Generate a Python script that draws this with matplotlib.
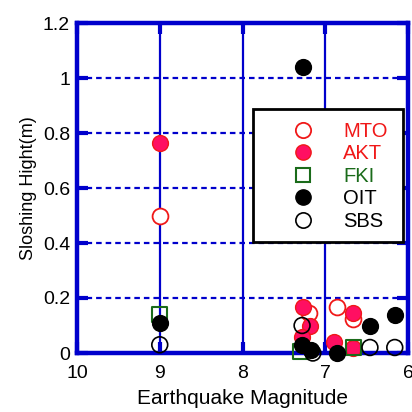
import matplotlib
matplotlib.use("Agg")
import matplotlib.pyplot as plt
from matplotlib.lines import Line2D
from matplotlib.patches import Rectangle

plt.rcParams['font.family'] = ['Liberation Sans', 'DejaVu Sans']

BLUE = '#0000CC'
RED = '#F01818'
PINK = '#FF0F62'
GREEN = '#1A6B1A'

# Data (magnitude, sloshing height)
mto_x = [9.0, 7.2, 6.86, 6.66]
mto_y = [0.50, 0.145, 0.167, 0.125]
akt_x = [9.0, 7.27, 7.18, 7.28, 6.89, 6.66, 6.66]
akt_y = [0.764, 0.167, 0.10, 0.06, 0.04, 0.145, 0.02]
fki_x = [9.0, 7.3, 6.66]
fki_y = [0.14, 0.005, 0.02]
oit_x = [7.27, 9.0, 7.28, 7.17, 6.86, 6.46, 6.16]
oit_y = [1.04, 0.11, 0.03, 0.01, 0.0, 0.10, 0.14]
sbs_x = [9.0, 7.28, 7.15, 6.46, 6.16]
sbs_y = [0.03, 0.10, 0.0, 0.02, 0.02]

xticks = [10, 9, 8, 7, 6]
yticks = [0, 0.2, 0.4, 0.6, 0.8, 1.0, 1.2]
ytick_labels = ['0', '0.2', '0.4', '0.6', '0.8', '1', '1.2']
labels = ['MTO', 'AKT', 'FKI', 'OIT', 'SBS']

W = 412.0
fig = plt.figure(figsize=(4.12, 4.12), dpi=100)
ax = fig.add_axes([77 / W, (W - 353) / W, (408 - 77) / W, (353 - 23) / W])
ax.set_xlim(10, 6)
ax.set_ylim(0, 1.2)

# grid
for xv in [9, 8, 7]:
    ax.axvline(xv, color=BLUE, lw=1.6, zorder=1)
for yv in [0.2, 0.4, 0.6, 0.8, 1.0]:
    ax.axhline(yv, color=BLUE, lw=1.6, ls=(0, (2.5, 1.8)), zorder=1)

ms = 130
ax.scatter(mto_x, mto_y, s=ms, facecolors='white', edgecolors=RED, linewidths=1.3, zorder=3, clip_on=False)
ax.scatter(akt_x, akt_y, s=ms, facecolors=PINK, edgecolors=RED, linewidths=1.0, zorder=4, clip_on=False)
ax.scatter(fki_x, fki_y, s=110, marker='s', facecolors='none', edgecolors=GREEN, linewidths=1.5, zorder=5, clip_on=False)
ax.scatter(sbs_x, sbs_y, s=ms, facecolors='none', edgecolors='black', linewidths=1.2, zorder=6, clip_on=False)
ax.scatter(oit_x, oit_y, s=ms, facecolors='black', edgecolors='black', linewidths=1.0, zorder=7, clip_on=False)

ax.set_xticks(xticks)
ax.set_xticklabels([str(v) for v in xticks])
ax.set_yticks(yticks)
ax.set_yticklabels(ytick_labels)
ax.tick_params(direction='in', length=8, width=3, color=BLUE, labelsize=14,
               top=True, right=True)
ax.tick_params(axis='x', pad=9)
ax.tick_params(axis='y', pad=5)
for sp in ax.spines.values():
    sp.set_color(BLUE)
    sp.set_linewidth(3.2)
    sp.set_zorder(2.5)

ax.set_xlabel('Earthquake Magnitude', fontsize=15, labelpad=5)
ax.set_ylabel('Sloshing Hight(m)', fontsize=13, labelpad=4)

# legend box
fig.patches.append(Rectangle((253 / W, (W - 242) / W), 150 / W, 133 / W,
                             transform=fig.transFigure, facecolor='white',
                             edgecolor='black', linewidth=2, zorder=10))

handles = [
    Line2D([], [], ls='none', marker='o', ms=11, mfc='white', mec=RED, mew=1.3),
    Line2D([], [], ls='none', marker='o', ms=11, mfc=PINK, mec=RED, mew=1.0),
    Line2D([], [], ls='none', marker='s', ms=10, mfc='none', mec=GREEN, mew=1.5),
    Line2D([], [], ls='none', marker='o', ms=11, mfc='black', mec='black'),
    Line2D([], [], ls='none', marker='o', ms=11, mfc='none', mec='black', mew=1.2),
]
leg = fig.legend(handles, labels, loc='upper left',
                 bbox_to_anchor=(283 / W, (W - 122) / W),
                 fontsize=14.5, frameon=False, borderpad=0,
                 handlelength=2.0, handletextpad=1.0, labelspacing=0.17,
                 borderaxespad=0)
leg.set_zorder(11)
text_colors = [RED, RED, GREEN, 'black', 'black']
for t, c in zip(leg.get_texts(), text_colors):
    t.set_color(c)

fig.savefig('out.png', dpi=100)
